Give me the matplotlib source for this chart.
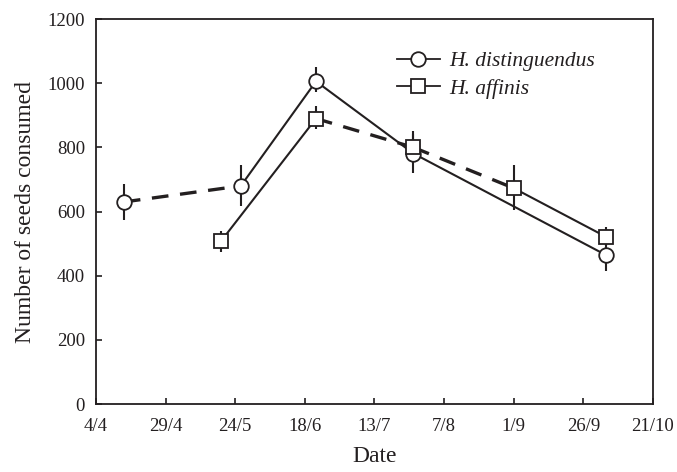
import matplotlib
matplotlib.use("Agg")
import matplotlib.pyplot as plt
from matplotlib.lines import Line2D
import datetime as dt

plt.rcParams['font.family'] = ['Liberation Serif', 'DejaVu Serif']

# ---- data ----
dist_dates = ["2000-04-14", "2000-05-26", "2000-06-22", "2000-07-27", "2000-10-04"]
dist_vals = [630, 680, 1006, 781, 465]
dist_err_lo = [55, 62, 34, 60, 50]
dist_err_hi = [55, 64, 44, 60, 45]
dist_seg_styles = ["dashed", "solid", "solid", "solid"]

aff_dates = ["2000-05-19", "2000-06-22", "2000-07-27", "2000-09-01", "2000-10-04"]
aff_vals = [509, 890, 800, 673, 522]
aff_err_lo = [34, 34, 45, 67, 30]
aff_err_hi = [29, 38, 50, 71, 31]
aff_seg_styles = ["solid", "dashed", "dashed", "solid"]

tick_dates = ["2000-04-04", "2000-04-29", "2000-05-24", "2000-06-18", "2000-07-13",
              "2000-08-07", "2000-09-01", "2000-09-26", "2000-10-21"]
y_ticks = [0, 200, 400, 600, 800, 1000, 1200]

labels = ["H. distinguendus", "H. affinis"]

# ---- plot ----
C = "#231f20"
to_d = lambda s: dt.datetime.strptime(s, "%Y-%m-%d")

fig = plt.figure(figsize=(6.77, 4.72), dpi=100)
ax = fig.add_axes([0.1418, 0.144, 0.8227, 0.8155])


def draw(dates, vals, lo, hi, styles, marker, ms):
    xs = [to_d(d) for d in dates]
    for i, st in enumerate(styles):
        lw = 2.4 if st == "dashed" else 1.5
        ls = (0, (5, 3.5)) if st == "dashed" else "-"
        ax.plot(xs[i:i + 2], vals[i:i + 2], color=C, lw=lw, linestyle=ls, zorder=2)
    ax.errorbar(xs, vals, yerr=[lo, hi], fmt="none", ecolor=C, elinewidth=1.5,
                capsize=0, zorder=3)
    ax.plot(xs, vals, linestyle="none", marker=marker, ms=ms, mfc="white",
            mec=C, mew=1.3, zorder=4)


draw(dist_dates, dist_vals, dist_err_lo, dist_err_hi, dist_seg_styles, "o", 10.5)
draw(aff_dates, aff_vals, aff_err_lo, aff_err_hi, aff_seg_styles, "s", 9.5)

ax.set_xlim(to_d(tick_dates[0]), to_d(tick_dates[-1]))
ax.set_ylim(0, 1200)
ax.set_xticks([to_d(d) for d in tick_dates])
ax.set_xticklabels([f"{to_d(d).day}/{to_d(d).month}" for d in tick_dates])
ax.set_yticks(y_ticks)
ax.tick_params(direction="in", length=4, width=1.2, color=C, labelsize=13.5,
               labelcolor=C)
ax.tick_params(axis="x", pad=10)
ax.tick_params(axis="y", pad=8)
for sp in ax.spines.values():
    sp.set_linewidth(1.3)
    sp.set_color(C)

ax.set_xlabel("Date", fontsize=17, color=C, labelpad=8)
ax.set_ylabel("Number of seeds consumed", fontsize=17, color=C, labelpad=8)

handles = [
    Line2D([], [], color=C, lw=1.3, marker="o", ms=10.5, mfc="white", mec=C, mew=1.3),
    Line2D([], [], color=C, lw=1.3, marker="s", ms=9.5, mfc="white", mec=C, mew=1.3),
]
leg = ax.legend(handles, labels, loc="upper left", bbox_to_anchor=(0.505, 0.967),
                frameon=False, handlelength=2.0, handletextpad=0.45,
                labelspacing=0.35, prop={"style": "italic", "size": 15.5})
for t in leg.get_texts():
    t.set_color(C)

fig.savefig("out.png", dpi=100)
